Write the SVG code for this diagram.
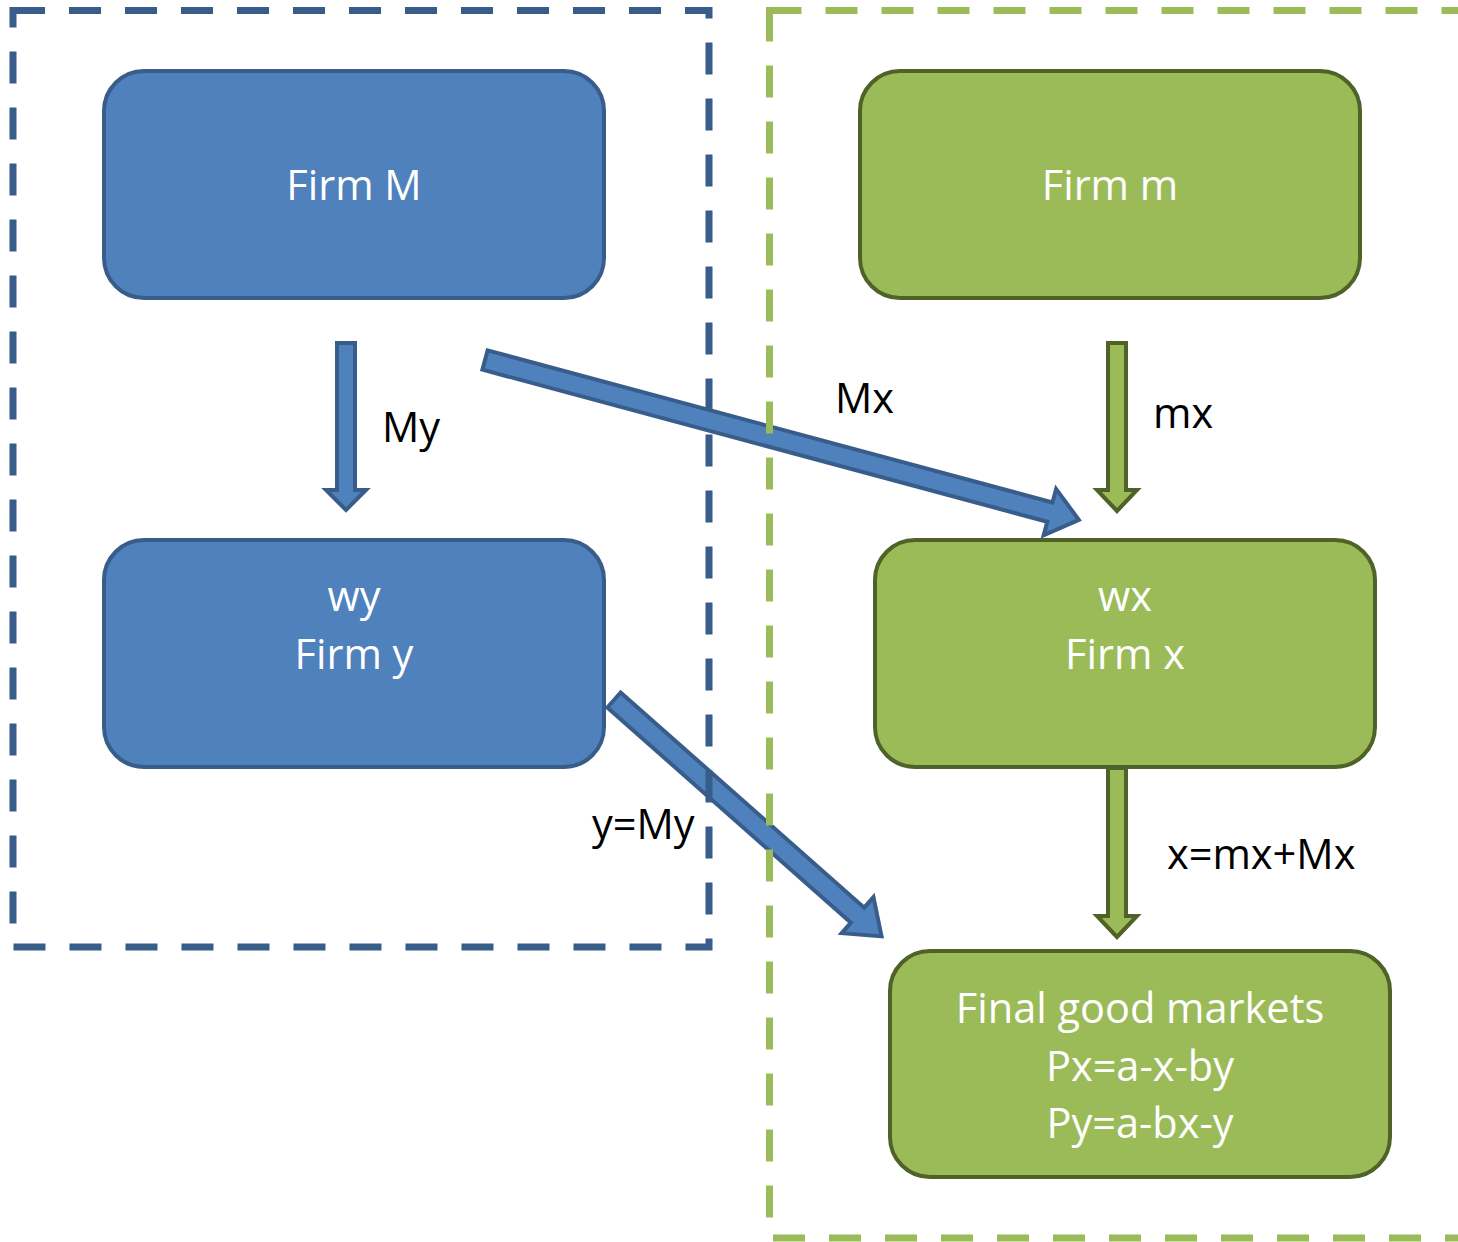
<svg xmlns="http://www.w3.org/2000/svg" width="1458" height="1242" viewBox="0 0 1458 1242">
  <style>
    .bbox { fill: #4F81BD; stroke: #385D8A; stroke-width: 4; }
    .gbox { fill: #9BBB59; stroke: #4F6228; stroke-width: 4; }
    .barrow { fill: #4F81BD; stroke: #385D8A; stroke-width: 4; stroke-linejoin: miter; }
    .garrow { fill: #9BBB59; stroke: #4F6228; stroke-width: 4; stroke-linejoin: miter; }
    .ntext { font-family: "Open Sans", "Liberation Sans", sans-serif; font-size: 41.5px; fill: #FFFFFF; text-anchor: middle; }
    .ltext { font-family: "Open Sans", "Liberation Sans", sans-serif; font-size: 41.5px; fill: #000000; }
    .bdash { fill: none; stroke: #385D8A; stroke-width: 7; stroke-dasharray: 32 24; }
    .gdash { fill: none; stroke: #9BBB59; stroke-width: 7; stroke-dasharray: 32 24; }
  </style>

  <g id="firm-M">
    <rect class="bbox" x="104" y="71" width="500" height="227" rx="40"/>
    <text class="ntext" x="354" y="200">Firm M</text>
  </g>
  <g id="firm-m">
    <rect class="gbox" x="860" y="71" width="500" height="227" rx="40"/>
    <text class="ntext" x="1110" y="200">Firm m</text>
  </g>
  <g id="firm-y">
    <rect class="bbox" x="104" y="540" width="500" height="227" rx="40"/>
    <text class="ntext" x="354" y="611">wy</text>
    <text class="ntext" x="354" y="669">Firm y</text>
  </g>
  <g id="firm-x">
    <rect class="gbox" x="875" y="540" width="500" height="227" rx="40"/>
    <text class="ntext" x="1125" y="611">wx</text>
    <text class="ntext" x="1125" y="669">Firm x</text>
  </g>
  <g id="final-good-markets">
    <rect class="gbox" x="890" y="951" width="500" height="226" rx="40"/>
    <text class="ntext" x="1140" y="1023">Final good markets</text>
    <text class="ntext" x="1140" y="1081">Px=a-x-by</text>
    <text class="ntext" x="1140" y="1138">Py=a-bx-y</text>
  </g>

  <g id="connectors">
    <polygon class="barrow" points="337,343 355,343 355,490 366,490 346,510 326,490 337,490"/>
    <polygon class="garrow" points="1108,343 1126,343 1126,490 1137,490 1117,511 1097,490 1108,490"/>
    <polygon class="garrow" points="1108,768 1126,768 1126,916 1137,916 1117,937 1097,916 1108,916"/>
    <path class="barrow" transform="translate(485,360) rotate(15.07)" d="M0,-10 L585,-10 L585,-24 L615,0 L585,24 L585,10 L0,10 Z"/>
    <path class="barrow" transform="translate(614,700) rotate(41.46)" d="M0,-10 L325,-10 L325,-24 L357,0 L325,24 L325,10 L0,10 Z"/>
    <text class="ltext" x="382" y="442">My</text>
    <text class="ltext" x="835" y="413">Mx</text>
    <text class="ltext" x="1153" y="428">mx</text>
    <text class="ltext" x="592" y="839">y=My</text>
    <text class="ltext" x="1167" y="869">x=mx+Mx</text>
  </g>

  <g id="group-M">
    <rect class="bdash" x="13" y="10.5" width="696" height="936.5"/>
  </g>
  <g id="group-m">
    <rect class="gdash" x="769.5" y="10.5" width="720" height="1227.5"/>
  </g>
</svg>
